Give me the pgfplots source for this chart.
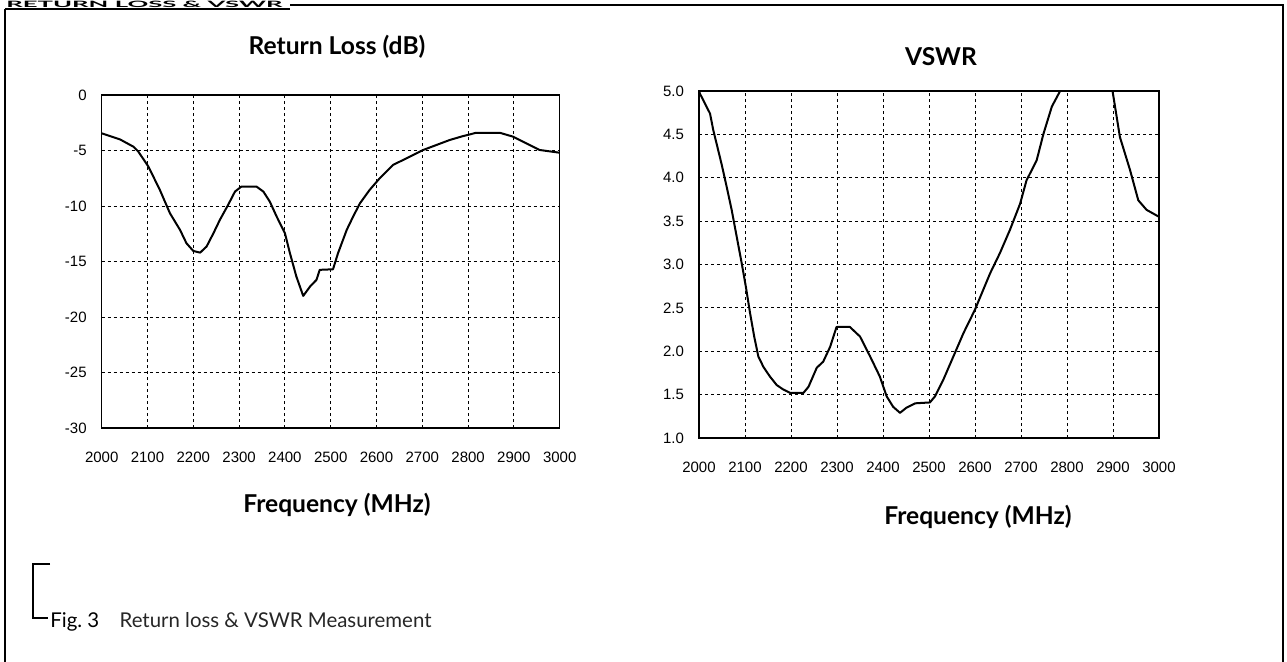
\documentclass[border=0pt]{standalone}
\usepackage{fontspec}
\setmainfont{Lato}
\newfontfamily\tickfont{Liberation Sans}
\usepackage{pgfplots}
\pgfplotsset{compat=1.18}

\pgfplotsset{rfstyle/.style={
  scale only axis,
  axis line style={black, line width=0.6pt},
  grid=major,
  major grid style={black, line width=0.5pt, dash pattern=on 1.5pt off 1.5pt},
  major tick length=0pt,
  xmin=2000, xmax=3000, xtick={2000,2100,...,3000},
  tick label style={font=\tickfont\fontsize{7.5}{9}\selectfont, /pgf/number format/assume math mode=true},
  /pgf/number format/1000 sep={},
  xticklabel style={yshift=-8.5pt},
  yticklabel style={xshift=-4pt},
}}
\tikzset{curve/.style={black, line width=1pt, line join=round, mark=none}}

\begin{document}
\begin{tikzpicture}
\useasboundingbox (0pt,0pt) rectangle (643.5pt,-330.5pt);

% header
\node[anchor=base west, inner sep=0pt] at (3pt,-3.6pt) {\resizebox{138pt}{3.2pt}{\bfseries RETURN LOSS \& VSWR}};
\draw[line width=0.9pt] (2.5pt,-4.6pt) -- (145pt,-4.6pt);
% outer frame
\draw[line width=0.7pt] (145pt,-2.5pt) -- (641.5pt,-2.5pt) -- (641.5pt,-340pt);
\draw[line width=0.7pt] (2.5pt,-4.6pt) -- (2.5pt,-340pt);

% ---------- Return loss ----------
\begin{axis}[rfstyle,
  at={(50.85pt,-214pt)}, anchor=south west,
  width=229pt, height=166.5pt,
  ymin=-30, ymax=0, ytick={-30,-25,...,0},
]
\addplot[curve] coordinates {
(2000,-3.45) (2040,-4.0) (2069,-4.65) (2080,-5.1) (2102,-6.45) (2127,-8.55)
(2149,-10.65) (2171,-12.15) (2185,-13.35) (2200,-14.05) (2215,-14.2) (2229,-13.65)
(2244,-12.45) (2258,-11.25) (2276,-9.9) (2291,-8.7) (2305,-8.25) (2338,-8.25)
(2353,-8.7) (2367,-9.6) (2382,-10.95) (2400,-12.45) (2411,-14.25) (2425,-16.35)
(2440,-18.1) (2455,-17.25) (2469,-16.65) (2476,-15.75) (2505,-15.7) (2516,-14.25)
(2535,-12.15) (2549,-10.95) (2564,-9.75) (2585,-8.55) (2607,-7.5) (2636,-6.3)
(2673,-5.55) (2702,-4.95) (2731,-4.5) (2760,-4.05) (2789,-3.7) (2818,-3.4)
(2869,-3.4) (2898,-3.75) (2927,-4.35) (2956,-4.95) (3000,-5.2)
};
\end{axis}

% ---------- VSWR ----------
\begin{axis}[rfstyle,
  at={(349.5pt,-219pt)}, anchor=south west,
  width=230pt, height=173.5pt,
  ymin=1, ymax=5, ytick={1,1.5,...,5},
  yticklabel style={/pgf/number format/.cd, fixed, fixed zerofill, precision=1},
]
\addplot[curve] coordinates {
(2000,5.0) (2002,4.97) (2024,4.74) (2031,4.55) (2049,4.16) (2060,3.90) (2071,3.63)
(2082,3.32) (2093,3.01) (2102,2.74) (2111,2.44) (2120,2.17) (2129,1.94)
(2140,1.82) (2154,1.71) (2169,1.61) (2183,1.56) (2198,1.52) (2227,1.52)
(2238,1.59) (2256,1.81) (2270,1.88) (2285,2.05) (2299,2.28) (2328,2.28)
(2350,2.17) (2372,1.94) (2393,1.71) (2408,1.48) (2422,1.36) (2437,1.29)
(2451,1.35) (2470,1.40) (2502,1.41) (2513,1.48) (2531,1.67) (2553,1.94)
(2575,2.21) (2600,2.48) (2618,2.71) (2633,2.90) (2654,3.13) (2676,3.40)
(2698,3.70) (2712,3.97) (2734,4.20) (2749,4.51) (2767,4.82) (2785,5.0)
};
\addplot[curve] coordinates {
(2899,5.0) (2915,4.47) (2937,4.09) (2955,3.74) (2973,3.63) (3000,3.55)
};
\end{axis}

% titles and labels
\node[font=\bfseries\fontsize{12.3}{14}\selectfont] at (168.5pt,-23.5pt) {Return Loss (dB)};
\node[font=\bfseries\fontsize{12.3}{14}\selectfont] at (470.5pt,-28.5pt) {VSWR};
\node[font=\bfseries\fontsize{12.3}{14}\selectfont] at (168.5pt,-252.5pt) {Frequency (MHz)};
\node[font=\bfseries\fontsize{12.3}{14}\selectfont] at (489pt,-258.5pt) {Frequency (MHz)};

% caption with bracket
\draw[line width=0.6pt] (25pt,-282pt) -- (16.5pt,-282pt) -- (16.5pt,-309pt) -- (24pt,-309pt);
\node[anchor=base west, inner sep=0pt, font=\fontsize{10.2}{12}\selectfont] at (25pt,-313.5pt) {Fig.~3\quad \textcolor{black!85}{Return loss \& VSWR Measurement}};
\end{tikzpicture}
\end{document}
